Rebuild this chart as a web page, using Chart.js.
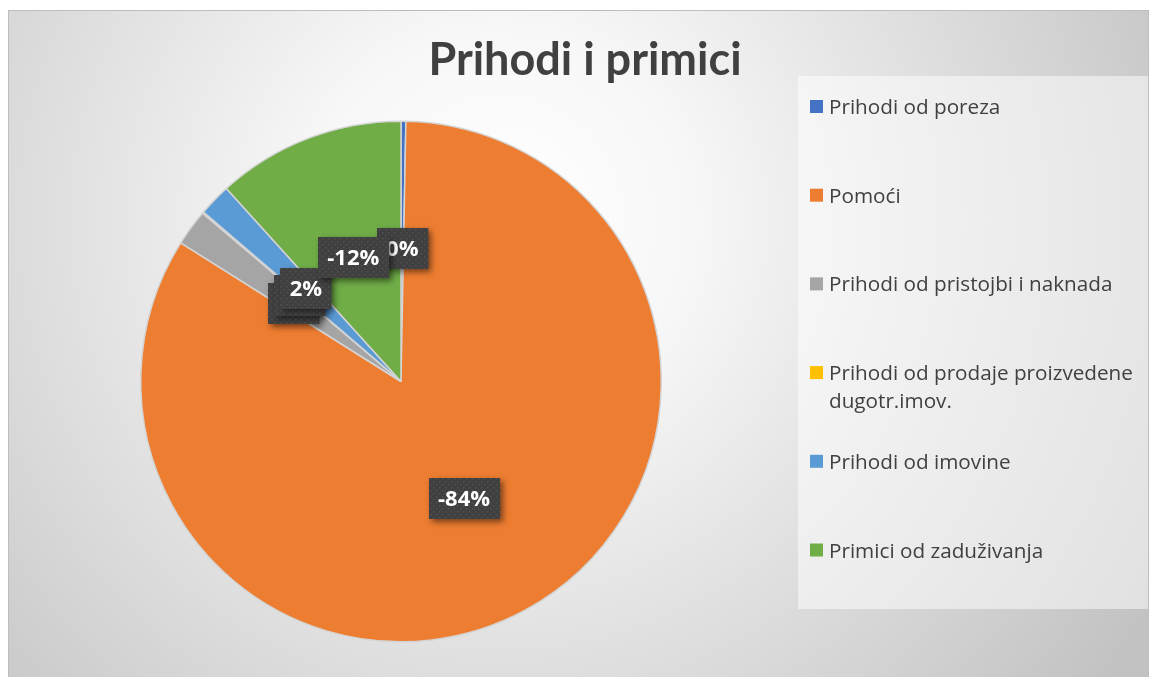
<!DOCTYPE html>
<html>
<head>
<meta charset="utf-8">
<script src="https://cdn.jsdelivr.net/npm/chart.js@4.4.0/dist/chart.umd.min.js"></script>
<style>
  body { margin: 0; background: #fff; }
  #wrap { width: 1151px; height: 677px; }
</style>
</head>
<body>
<div id="wrap"><canvas id="pieChart"></canvas></div>
<script>
const chartTitle = 'Prihodi i primici';
const categories = [
  'Prihodi od poreza',
  'Pomoći',
  'Prihodi od pristojbi i naknada',
  'Prihodi od prodaje proizvedene dugotr.imov.',
  'Prihodi od imovine',
  'Primici od zaduživanja'
];
// signed shares (labels show the sign)
const amounts = [0.3, -83.6, 2.25, 0.1, 2.0, -11.7];
const colors = ['#4472C4', '#ED7D31', '#A5A5A5', '#FFC000', '#5B9BD5', '#70AD47'];

const absTotal = amounts.reduce((s, v) => s + Math.abs(v), 0);
const pctLabels = amounts.map(v => Math.round(v / absTotal * 100) + '%');

// dotted fill used by the data label boxes
function makeDots() {
  const c = document.createElement('canvas');
  c.width = 6; c.height = 6;
  const g = c.getContext('2d');
  g.fillStyle = 'rgba(255,255,255,0.09)';
  g.fillRect(1, 1, 1.5, 1.5);
  g.fillRect(4, 4, 1.5, 1.5);
  return c;
}

function wrapText(ctx, text, maxW) {
  const words = text.split(' ');
  const lines = [];
  let line = '';
  words.forEach(w => {
    const test = line ? line + ' ' + w : w;
    if (ctx.measureText(test).width > maxW && line) {
      lines.push(line);
      line = w;
    } else {
      line = test;
    }
  });
  lines.push(line);
  return lines;
}

const backdrop = {
  id: 'backdrop',
  beforeDraw(chart) {
    const ctx = chart.ctx;
    ctx.save();
    ctx.fillStyle = '#fff';
    ctx.fillRect(0, 0, chart.width, chart.height);
    const grad = ctx.createRadialGradient(500, 220, 0, 500, 220, 760);
    grad.addColorStop(0, '#ffffff');
    grad.addColorStop(0.25, '#f7f7f7');
    grad.addColorStop(1, '#c2c2c2');
    ctx.fillStyle = grad;
    ctx.fillRect(8, 10, 1141, 667);
    ctx.strokeStyle = '#bdbdbd';
    ctx.lineWidth = 1;
    ctx.strokeRect(8.5, 10.5, 1140, 670);
    // legend panel
    ctx.fillStyle = 'rgba(255,255,255,0.5)';
    ctx.fillRect(798, 76, 350, 533);
    ctx.restore();
  }
};

const sliceLabels = {
  id: 'sliceLabels',
  afterDatasetsDraw(chart) {
    const ctx = chart.ctx;
    const arcs = chart.getDatasetMeta(0).data;
    const dots = ctx.createPattern(makeDots(), 'repeat');
    ctx.save();
    ctx.font = 'bold 22px "Open Sans"';
    ctx.textAlign = 'center';
    ctx.textBaseline = 'middle';
    arcs.forEach((arc, i) => {
      const p = arc.getProps(['x', 'y', 'startAngle', 'endAngle', 'outerRadius']);
      const mid = (p.startAngle + p.endAngle) / 2;
      const r = p.outerRadius * 0.51;
      const cx = p.x + Math.cos(mid) * r;
      const cy = p.y + Math.sin(mid) * r;
      const txt = pctLabels[i];
      const w = ctx.measureText(txt).width + 19;
      const h = 41;
      const bx = Math.round(cx - w / 2), by = Math.round(cy - h / 2);
      ctx.shadowColor = 'rgba(0,0,0,0.5)';
      ctx.shadowBlur = 6;
      ctx.shadowOffsetX = 3;
      ctx.shadowOffsetY = 3;
      ctx.fillStyle = '#404040';
      ctx.fillRect(bx, by, w, h);
      ctx.shadowColor = 'transparent';
      ctx.fillStyle = dots;
      ctx.fillRect(bx, by, w, h);
      ctx.fillStyle = '#ffffff';
      ctx.fillText(txt, cx, cy + 1);
    });
    ctx.restore();
  }
};

const titleAndLegend = {
  id: 'titleAndLegend',
  afterDraw(chart) {
    const ctx = chart.ctx;
    ctx.save();
    ctx.fillStyle = '#404040';
    ctx.font = 'bold 45px Lato';
    ctx.textAlign = 'center';
    ctx.textBaseline = 'alphabetic';
    ctx.fillText(chartTitle, 585, 75);

    ctx.textAlign = 'left';
    ctx.font = '20.7px "Open Sans"';
    categories.forEach((name, i) => {
      const base = 114 + i * 88.7;
      ctx.fillStyle = colors[i];
      ctx.fillRect(810, base - 14, 13, 13);
      ctx.fillStyle = '#404040';
      wrapText(ctx, name, 318).forEach((ln, k) => {
        ctx.fillText(ln, 829, base + k * 28);
      });
    });
    ctx.restore();
  }
};

new Chart(document.getElementById('pieChart'), {
  type: 'pie',
  data: {
    labels: categories,
    datasets: [{
      data: amounts.map(v => Math.abs(v)),
      backgroundColor: colors,
      borderColor: '#d4d4d4',
      borderWidth: 1.5
    }]
  },
  options: {
    responsive: true,
    maintainAspectRatio: false,
    animation: false,
    layout: { padding: { left: 140, right: 489, top: 120, bottom: 34 } },
    plugins: {
      legend: { display: false },
      tooltip: { enabled: false }
    }
  },
  plugins: [backdrop, sliceLabels, titleAndLegend]
});
</script>
</body>
</html>
